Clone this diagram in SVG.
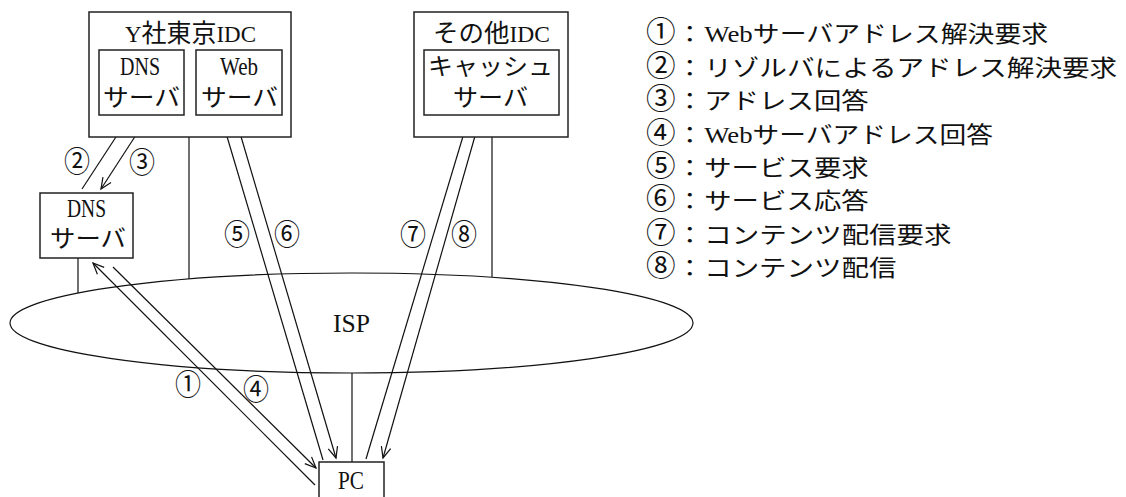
<svg xmlns="http://www.w3.org/2000/svg" width="1126" height="497" viewBox="0 0 1126 497">
<style>
text{font-family:"Liberation Serif","Noto Sans CJK JP",serif;fill:#111;}
.j{font-size:24px;}
.l{font-size:26px;}
.c{font-size:29px;text-anchor:middle;}
.lg{font-size:23px;}
.lc{font-size:30px;}
.box{fill:#fff;stroke:#222;stroke-width:1.5;}
.ln{stroke:#111;stroke-width:1.2;fill:none;}
.ar{stroke:#111;stroke-width:1.2;fill:none;marker-end:url(#ah);}
</style>
<defs>
<marker id="ah" viewBox="-13 -7 15 14" refX="0" refY="0" markerWidth="15" markerHeight="14" markerUnits="userSpaceOnUse" orient="auto">
<path d="M-11,-4.8 L0,0 L-11,4.8" fill="none" stroke="#111" stroke-width="1.2"/>
</marker>
</defs>
<rect width="1126" height="497" fill="#fff"/>

<g id="isp">
<ellipse cx="351.5" cy="323" rx="341.5" ry="50" class="ln"/>
<text class="l" x="333" y="332" textLength="37" lengthAdjust="spacingAndGlyphs">ISP</text>
</g>

<g id="connectors">
<line class="ln" x1="78" y1="258" x2="78" y2="293"/>
<line class="ln" x1="189" y1="137" x2="189" y2="279"/>
<line class="ln" x1="492" y1="137" x2="492" y2="277"/>
<line class="ln" x1="352" y1="373" x2="352" y2="462"/>
<line class="ar" x1="82" y1="189" x2="129" y2="117"/>
<line class="ar" x1="147" y1="118" x2="101" y2="189"/>
<line class="ar" x1="315" y1="485" x2="93" y2="263"/>
<line class="ar" x1="113" y1="267" x2="316" y2="468"/>
<line class="ar" x1="323" y1="460" x2="223" y2="123"/>
<line class="ar" x1="237" y1="123" x2="336" y2="458"/>
<line class="ar" x1="366" y1="459" x2="467" y2="123"/>
<line class="ar" x1="479" y1="122" x2="383" y2="458"/>
</g>

<g id="y-idc">
<rect class="box" x="89" y="12" width="202" height="125"/>
<text x="125" y="42" font-size="23" textLength="131" lengthAdjust="spacingAndGlyphs">Y<tspan font-size="25">社東京</tspan>IDC</text>
</g>
<g id="dns-in">
<rect class="box" x="99" y="50" width="85" height="65"/>
<text class="l" x="120" y="75" textLength="40" lengthAdjust="spacingAndGlyphs">DNS</text>
<text class="j" x="103" y="106" textLength="77" lengthAdjust="spacingAndGlyphs">サーバ</text>
</g>
<g id="web">
<rect class="box" x="196" y="50" width="86" height="65"/>
<text class="l" x="220" y="75" textLength="38" lengthAdjust="spacingAndGlyphs">Web</text>
<text class="j" x="201" y="106" textLength="77" lengthAdjust="spacingAndGlyphs">サーバ</text>
</g>

<g id="other-idc">
<rect class="box" x="414" y="12" width="154" height="125"/>
<text x="433" y="42" font-size="23" textLength="117" lengthAdjust="spacingAndGlyphs"><tspan font-size="25">その他</tspan>IDC</text>
</g>
<g id="cache">
<rect class="box" x="424" y="50" width="135" height="65"/>
<text class="j" x="428" y="75" textLength="125" lengthAdjust="spacingAndGlyphs">キャッシュ</text>
<text class="j" x="453" y="106" textLength="75" lengthAdjust="spacingAndGlyphs">サーバ</text>
</g>

<g id="dns-resolver">
<rect class="box" x="40" y="193" width="93" height="65"/>
<text class="l" x="67" y="217" textLength="39" lengthAdjust="spacingAndGlyphs">DNS</text>
<text class="j" x="50" y="247" textLength="76" lengthAdjust="spacingAndGlyphs">サーバ</text>
</g>

<g id="pc">
<rect class="box" x="319" y="462" width="65" height="40"/>
<text class="l" x="338" y="489" textLength="26" lengthAdjust="spacingAndGlyphs">PC</text>
</g>

<g id="labels">
<text class="c" x="77" y="172" textLength="26" lengthAdjust="spacingAndGlyphs">②</text>
<text class="c" x="142" y="173" textLength="26" lengthAdjust="spacingAndGlyphs">③</text>
<text class="c" x="188" y="395" textLength="26" lengthAdjust="spacingAndGlyphs">①</text>
<text class="c" x="256" y="400" textLength="26" lengthAdjust="spacingAndGlyphs">④</text>
<text class="c" x="237" y="245" textLength="26" lengthAdjust="spacingAndGlyphs">⑤</text>
<text class="c" x="287" y="245" textLength="26" lengthAdjust="spacingAndGlyphs">⑥</text>
<text class="c" x="413" y="245" textLength="26" lengthAdjust="spacingAndGlyphs">⑦</text>
<text class="c" x="464" y="245" textLength="26" lengthAdjust="spacingAndGlyphs">⑧</text>
</g>

<g id="legend">
<text y="42"><tspan class="lc" x="646" textLength="29.6" lengthAdjust="spacingAndGlyphs">①</tspan><tspan class="lg" x="676.6" textLength="26.6" lengthAdjust="spacingAndGlyphs">：</tspan><tspan class="lg" x="704.2" textLength="344" lengthAdjust="spacingAndGlyphs">Webサーバアドレス解決要求</tspan></text>
<text y="75.5"><tspan class="lc" x="646" textLength="29.6" lengthAdjust="spacingAndGlyphs">②</tspan><tspan class="lg" x="676.6" textLength="26.6" lengthAdjust="spacingAndGlyphs">：</tspan><tspan class="lg" x="704.2" textLength="413" lengthAdjust="spacingAndGlyphs">リゾルバによるアドレス解決要求</tspan></text>
<text y="109"><tspan class="lc" x="646" textLength="29.6" lengthAdjust="spacingAndGlyphs">③</tspan><tspan class="lg" x="676.6" textLength="26.6" lengthAdjust="spacingAndGlyphs">：</tspan><tspan class="lg" x="704.2" textLength="164.6" lengthAdjust="spacingAndGlyphs">アドレス回答</tspan></text>
<text y="142.5"><tspan class="lc" x="646" textLength="29.6" lengthAdjust="spacingAndGlyphs">④</tspan><tspan class="lg" x="676.6" textLength="26.6" lengthAdjust="spacingAndGlyphs">：</tspan><tspan class="lg" x="704.2" textLength="288.8" lengthAdjust="spacingAndGlyphs">Webサーバアドレス回答</tspan></text>
<text y="175.5"><tspan class="lc" x="646" textLength="29.6" lengthAdjust="spacingAndGlyphs">⑤</tspan><tspan class="lg" x="676.6" textLength="26.6" lengthAdjust="spacingAndGlyphs">：</tspan><tspan class="lg" x="704.2" textLength="164.6" lengthAdjust="spacingAndGlyphs">サービス要求</tspan></text>
<text y="209"><tspan class="lc" x="646" textLength="29.6" lengthAdjust="spacingAndGlyphs">⑥</tspan><tspan class="lg" x="676.6" textLength="26.6" lengthAdjust="spacingAndGlyphs">：</tspan><tspan class="lg" x="704.2" textLength="164.6" lengthAdjust="spacingAndGlyphs">サービス応答</tspan></text>
<text y="242.5"><tspan class="lc" x="646" textLength="29.6" lengthAdjust="spacingAndGlyphs">⑦</tspan><tspan class="lg" x="676.6" textLength="26.6" lengthAdjust="spacingAndGlyphs">：</tspan><tspan class="lg" x="704.2" textLength="247.4" lengthAdjust="spacingAndGlyphs">コンテンツ配信要求</tspan></text>
<text y="275.5"><tspan class="lc" x="646" textLength="29.6" lengthAdjust="spacingAndGlyphs">⑧</tspan><tspan class="lg" x="676.6" textLength="26.6" lengthAdjust="spacingAndGlyphs">：</tspan><tspan class="lg" x="704.2" textLength="192.2" lengthAdjust="spacingAndGlyphs">コンテンツ配信</tspan></text>
</g>
</svg>
